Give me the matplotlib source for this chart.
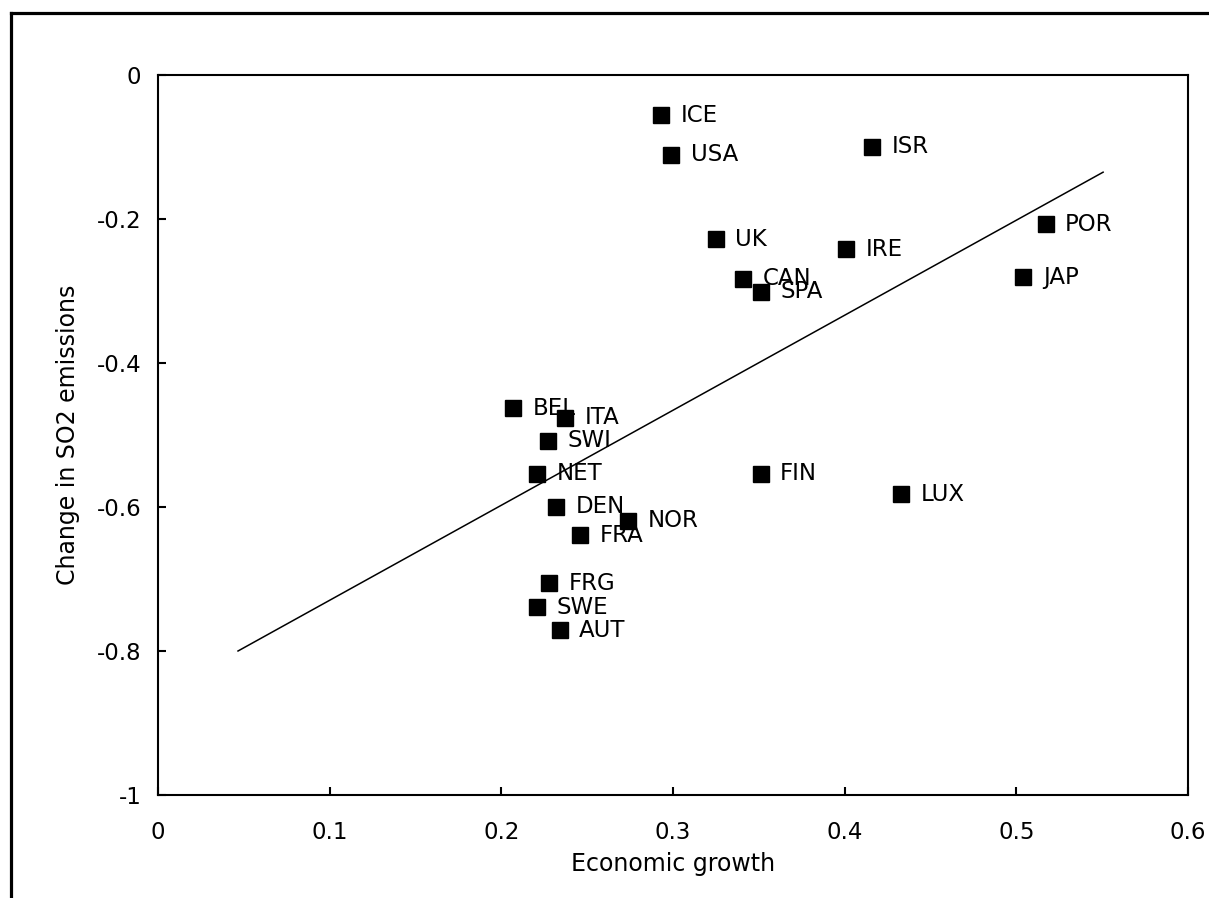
import matplotlib
matplotlib.use("Agg")
import matplotlib.pyplot as plt
from matplotlib.lines import Line2D

# data
countries = ["ICE", "USA", "ISR", "UK", "IRE", "POR", "JAP", "CAN", "SPA",
             "BEL", "ITA", "SWI", "NET", "FIN", "LUX", "DEN", "NOR", "FRA",
             "FRG", "SWE", "AUT"]
growth = [0.293, 0.299, 0.416, 0.325, 0.401, 0.517, 0.504, 0.341, 0.351,
          0.207, 0.237, 0.227, 0.221, 0.351, 0.433, 0.232, 0.274, 0.246,
          0.228, 0.221, 0.234]
so2_change = [-0.056, -0.111, -0.100, -0.228, -0.242, -0.207, -0.281, -0.283, -0.301,
              -0.463, -0.476, -0.508, -0.554, -0.554, -0.582, -0.600, -0.619, -0.639,
              -0.706, -0.739, -0.771]
fit_x = [0.0466, 0.5505]
fit_y = [-0.800, -0.135]

plt.rcParams['font.family'] = ['DejaVu Sans']

fig = plt.figure(figsize=(12.09, 8.98), dpi=100)
ax = fig.add_axes([0.1307, 0.1147, 0.852, 0.8018])

ax.plot(growth, so2_change, 's', color='black', markersize=11.5, linestyle='none')
for name, gx, gy in zip(countries, growth, so2_change):
    ax.annotate(name, (gx, gy), xytext=(14, 0), textcoords='offset points',
                va='center', ha='left', fontsize=16.5)

ax.plot(fit_x, fit_y, color='black', linewidth=1.1)

ax.set_xlim(0, 0.6)
ax.set_ylim(-1, 0)
ax.set_xticks([0, 0.1, 0.2, 0.3, 0.4, 0.5, 0.6])
ax.set_xticklabels(['0', '0.1', '0.2', '0.3', '0.4', '0.5', '0.6'])
ax.set_yticks([-1, -0.8, -0.6, -0.4, -0.2, 0])
ax.set_yticklabels(['-1', '-0.8', '-0.6', '-0.4', '-0.2', '0'])
ax.tick_params(direction='in', length=6, width=1.5, labelsize=16.5)
ax.tick_params(axis='x', pad=19)
ax.tick_params(axis='y', pad=12)
for sp in ax.spines.values():
    sp.set_linewidth(1.5)

ax.set_xlabel('Economic growth', fontsize=17)
ax.xaxis.set_label_coords(0.5, -0.079)
ax.set_ylabel('Change in SO2 emissions', fontsize=17)
ax.yaxis.set_label_coords(-0.076, 0.5)

# outer frame (top and left edges)
fig.add_artist(Line2D([0.0087, 1.0], [0.9855, 0.9855], color='black', linewidth=2.3,
                      transform=fig.transFigure))
fig.add_artist(Line2D([0.0087, 0.0087], [0.0, 0.9855], color='black', linewidth=2.3,
                      transform=fig.transFigure))

fig.savefig('out.png', dpi=100)
